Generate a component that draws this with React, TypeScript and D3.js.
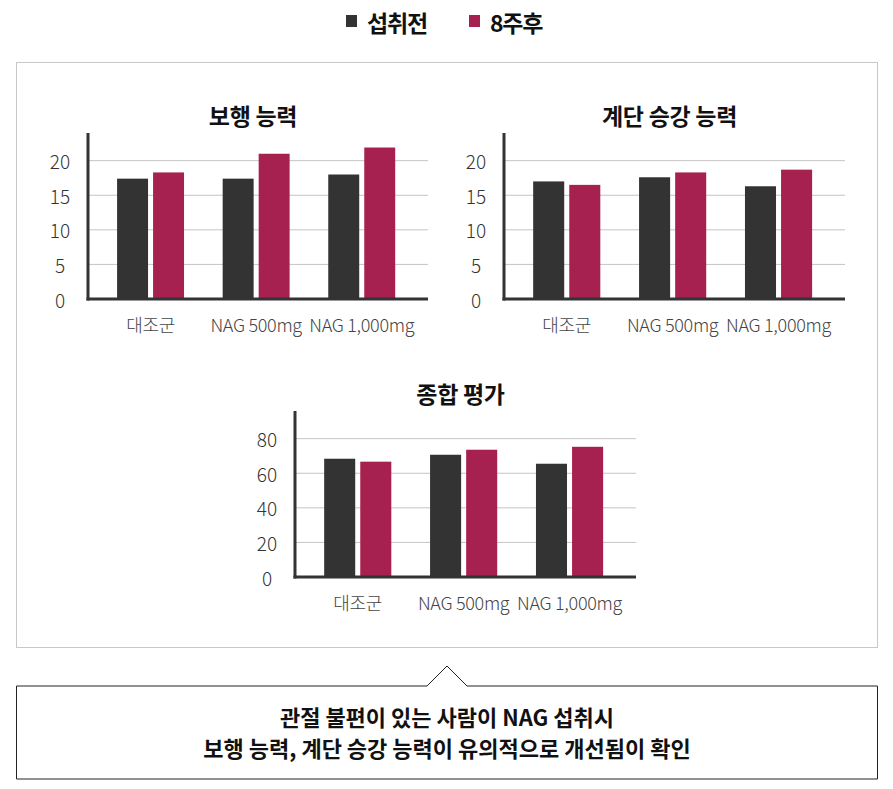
import * as d3 from 'd3'

const categories = ['대조군', 'NAG 500mg', 'NAG 1,000mg']
const seriesNames = ['섭취전', '8주후']
const seriesColors = ['#333333', '#a6214f']

const walkBefore = [17.4, 17.4, 18.0]
const walkAfter = [18.3, 21.0, 21.9]
const stairBefore = [17.0, 17.6, 16.3]
const stairAfter = [16.5, 18.3, 18.7]
const totalBefore = [68.4, 70.7, 65.5]
const totalAfter = [66.7, 73.6, 75.3]

const smallTicks = [0, 5, 10, 15, 20]
const bigTicks = [0, 20, 40, 60, 80]

const summaryLines = [
  '관절 불편이 있는 사람이 NAG 섭취시',
  '보행 능력, 계단 승강 능력이 유의적으로 개선됨이 확인',
]

const FONT = '"Noto Sans CJK KR", "Noto Sans", sans-serif'

interface PanelProps {
  title: string
  before: number[]
  after: number[]
  ticks: number[]
  yMax: number
  left: number
  right: number
  top: number
  base: number
}

function Panel({ title, before, after, ticks, yMax, left, right, top, base }: PanelProps) {
  const innerW = right - left
  const x0 = d3.scaleBand<string>()
    .domain(categories)
    .range([0, innerW])
    .paddingInner(0.366)
    .paddingOuter(0.293)
    .align(0.47)
  const x1 = d3.scaleBand<string>()
    .domain(seriesNames)
    .range([0, x0.bandwidth()])
    .paddingInner(0.14)
  const y = d3.scaleLinear().domain([0, yMax]).range([base, top])

  const rows = categories.map((c, i) => ({ cat: c, vals: [before[i], after[i]] }))

  return (
    <g>
      <text x={left + innerW / 2 - 5} y={top - 18} textAnchor="middle" dominantBaseline="central"
        fontFamily={FONT} fontWeight={700} fontSize={23} letterSpacing={-0.3} fill="#111">{title}</text>

      {/* grid lines */}
      {ticks.filter(t => t > 0).map(t => (
        <line key={t} x1={left} x2={right} y1={y(t)} y2={y(t)} stroke="#c4c4c4" strokeWidth={1} />
      ))}

      {/* tick labels */}
      {ticks.map(t => (
        <text key={'l' + t} x={left - 28} y={y(t)} textAnchor="middle" dominantBaseline="central"
          fontFamily={FONT} fontWeight={300} fontSize={19} fill="#333">{t}</text>
      ))}

      {/* bars */}
      {rows.map(r => (
        <g key={r.cat} transform={`translate(${left + (x0(r.cat) ?? 0)},0)`}>
          {r.vals.map((v, j) => (
            <rect key={j} x={x1(seriesNames[j]) ?? 0} y={y(v)} width={x1.bandwidth()}
              height={base - y(v)} fill={seriesColors[j]} />
          ))}
        </g>
      ))}

      {/* axes */}
      <line x1={left} x2={left} y1={top} y2={base + 1.5} stroke="#333" strokeWidth={3} />
      <line x1={left - 1.5} x2={right} y1={base} y2={base} stroke="#333" strokeWidth={3} />

      {/* category labels */}
      {categories.map(c => (
        <text key={c} x={left + (x0(c) ?? 0) + x0.bandwidth() / 2} y={base + 25} textAnchor="middle"
          dominantBaseline="central" fontFamily={FONT} fontWeight={300} fontSize={18}
          letterSpacing={-0.3} fill="#444">{c}</text>
      ))}
    </g>
  )
}

export default function App() {
  const width = 893
  const height = 789
  const calloutTop = 686
  const calloutBottom = 779
  const tipX = 447
  const callout = d3.path()
  callout.moveTo(16.5, calloutTop)
  callout.lineTo(tipX - 20, calloutTop)
  callout.lineTo(tipX, calloutTop - 20)
  callout.lineTo(tipX + 20, calloutTop)
  callout.lineTo(877.5, calloutTop)
  callout.lineTo(877.5, calloutBottom)
  callout.lineTo(16.5, calloutBottom)
  callout.closePath()

  const legendX = [346, 469]

  return (
    <svg width={width} height={height} style={{ position: 'absolute', left: 0, top: 0, background: '#fff' }}>
      {/* legend */}
      {seriesNames.map((s, i) => (
        <g key={s}>
          <rect x={legendX[i]} y={15} width={11} height={12} fill={seriesColors[i]} />
          <text x={legendX[i] + 21} y={22} dominantBaseline="central" fontFamily={FONT} fontWeight={700}
            fontSize={23} letterSpacing={-1.2} fill="#111">{s}</text>
        </g>
      ))}

      <rect x={16.5} y={62.5} width={861} height={585} fill="none" stroke="#c8c8c8" strokeWidth={1} />

      <Panel title="보행 능력" before={walkBefore} after={walkAfter} ticks={smallTicks} yMax={24}
        left={88} right={428} top={133} base={299} />
      <Panel title="계단 승강 능력" before={stairBefore} after={stairAfter} ticks={smallTicks} yMax={24}
        left={504} right={845} top={133} base={299} />
      <Panel title="종합 평가" before={totalBefore} after={totalAfter} ticks={bigTicks} yMax={96}
        left={295} right={636} top={411} base={577} />

      <path d={callout.toString()} fill="#fff" stroke="#222" strokeWidth={1} />
      {summaryLines.map((l, i) => (
        <text key={i} x={tipX} y={716 + i * 31} textAnchor="middle" dominantBaseline="central"
          fontFamily={FONT} fontWeight={700} fontSize={22} letterSpacing={0} fill="#111">{l}</text>
      ))}
    </svg>
  )
}
